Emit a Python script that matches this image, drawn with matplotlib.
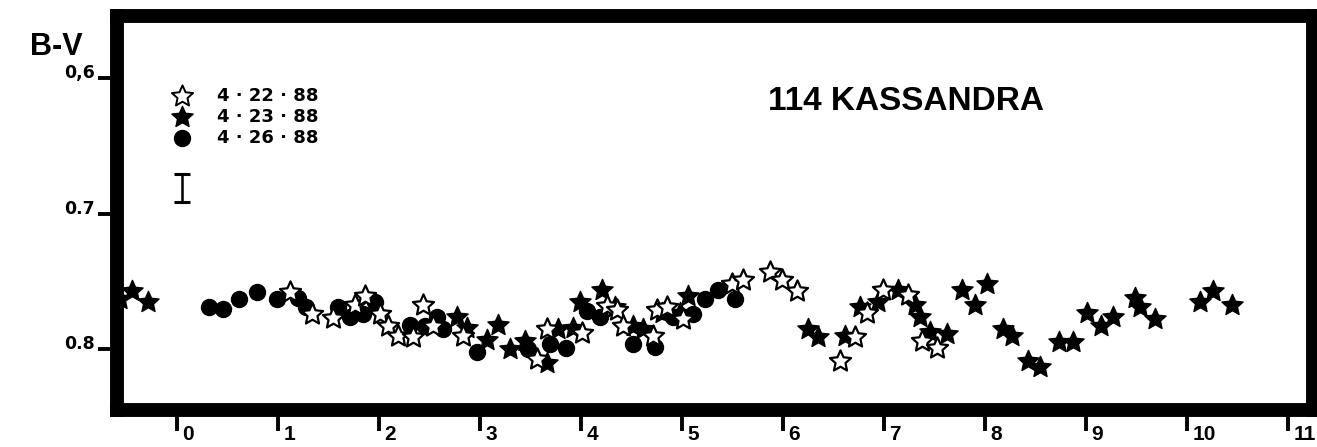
import matplotlib
matplotlib.use("Agg")
import matplotlib.pyplot as plt
import matplotlib.transforms as mtransforms
from matplotlib.path import Path

# 4.22.88 -- open stars (rotational phase, B-V)
OPEN_X = [1.119, 1.337, 1.545, 1.762, 1.861, 2.010, 2.089, 2.188, 2.337, 2.436,
          2.535, 2.832, 3.564, 3.663, 4.010, 4.257, 4.356, 4.416, 4.713, 4.752,
          4.851, 5.010, 5.495, 5.604, 5.871, 5.990, 6.139, 6.564, 6.713, 6.832,
          6.990, 7.238, 7.376, 7.525]
OPEN_Y = [0.758, 0.774, 0.777, 0.767, 0.761, 0.774, 0.783, 0.790, 0.791, 0.767,
          0.783, 0.790, 0.807, 0.785, 0.788, 0.768, 0.771, 0.783, 0.790, 0.771,
          0.769, 0.778, 0.752, 0.749, 0.743, 0.749, 0.757, 0.809, 0.791, 0.773,
          0.756, 0.760, 0.794, 0.799]

# 4.23.88 -- filled stars
FILLED_X = [-0.564, -0.446, -0.287, 2.772, 2.871, 3.069, 3.178, 3.297, 3.446, 3.663,
            3.772, 3.921, 3.990, 4.208, 4.337, 4.515, 4.614, 4.802, 4.980, 5.059,
            6.248, 6.347, 6.614, 6.762, 6.941, 7.139, 7.307, 7.356, 7.455, 7.624,
            7.772, 7.901, 8.020, 8.178, 8.267, 8.426, 8.545, 8.733, 8.871, 9.010,
            9.149, 9.267, 9.485, 9.535, 9.683, 10.129, 10.257, 10.446]
FILLED_Y = [0.763, 0.757, 0.765, 0.776, 0.784, 0.793, 0.782, 0.800, 0.794, 0.810,
            0.785, 0.784, 0.765, 0.756, 0.769, 0.783, 0.785, 0.773, 0.773, 0.761,
            0.785, 0.791, 0.790, 0.769, 0.765, 0.756, 0.767, 0.776, 0.787, 0.789,
            0.756, 0.767, 0.752, 0.785, 0.790, 0.809, 0.813, 0.795, 0.795, 0.773,
            0.783, 0.776, 0.762, 0.769, 0.778, 0.765, 0.757, 0.767]

# 4.26.88 -- filled circles
DOT_X = [0.317, 0.455, 0.614, 0.792, 0.990, 1.198, 1.277, 1.594, 1.713, 1.842,
         1.960, 2.307, 2.455, 2.574, 2.634, 2.970, 3.475, 3.693, 3.851, 4.059,
         4.188, 4.515, 4.733, 4.911, 5.109, 5.228, 5.356, 5.525]
DOT_Y = [0.769, 0.770, 0.763, 0.758, 0.763, 0.762, 0.769, 0.769, 0.776, 0.774,
         0.765, 0.782, 0.783, 0.776, 0.785, 0.802, 0.800, 0.796, 0.799, 0.772,
         0.776, 0.796, 0.798, 0.776, 0.774, 0.763, 0.756, 0.763]

LEGEND_LABELS = ["4 · 22 · 88", "4 · 23 · 88", "4 · 26 · 88"]
X_TICKS = list(range(0, 12))
Y_TICKS = [0.6, 0.7, 0.8]
Y_TICK_LABELS = ["0,6", "0.7", "0.8"]

# typical error bar
ERR_X = 0.05
ERR_Y = 0.681
ERR_HALF = 0.010

# chunkier star than matplotlib's "*", closer to the printed symbols
STAR = Path.unit_regular_star(5, innerCircle=0.47)
STAR_MS = 16
DOT_MS = 11.5

fig = plt.figure(figsize=(13.17, 4.47), dpi=100)
ax = fig.add_axes([0.0885, 0.0817, 0.9088, 0.8836])

ax.plot(DOT_X, DOT_Y, "o", ms=DOT_MS, mfc="black", mec="black", zorder=3)
ax.plot(FILLED_X, FILLED_Y, linestyle="none", marker=STAR, ms=STAR_MS,
        mfc="black", mec="black", mew=1.0, zorder=4)
ax.plot(OPEN_X, OPEN_Y, linestyle="none", marker=STAR, ms=STAR_MS,
        mfc="white", mec="black", mew=1.6, zorder=5)

# hand-made legend, as in the original figure
leg_x = 0.05
leg_y = [0.6129, 0.6287, 0.6441]
styles = [dict(marker=STAR, ms=STAR_MS, mfc="white", mec="black", mew=1.4),
          dict(marker=STAR, ms=STAR_MS, mfc="black", mec="black", mew=1.0),
          dict(marker="o", ms=DOT_MS, mfc="black", mec="black")]
for y, lbl, st in zip(leg_y, LEGEND_LABELS, styles):
    ax.plot([leg_x], [y], linestyle="none", **st)
    ax.text(0.396, y, lbl, ha="left", va="center", fontsize=13,
            family="DejaVu Sans", fontweight="bold", color="black")

ax.errorbar([ERR_X], [ERR_Y], yerr=[ERR_HALF], fmt="none", ecolor="black",
            elinewidth=1.8, capsize=5.5, capthick=2.2)

ax.set_xlim(-0.599, 11.252)
ax.set_ylim(0.8452, 0.5537)

for side in ["left", "right", "top", "bottom"]:
    ax.spines[side].set_linewidth(10)
    ax.spines[side].set_color("black")

ax.set_xticks(X_TICKS)
ax.set_xticklabels([str(t) for t in X_TICKS])
ax.set_yticks(Y_TICKS)
ax.set_yticklabels(Y_TICK_LABELS)
ax.tick_params(axis="x", direction="out", length=15, width=2.8, pad=-4.5,
               labelsize=15)
ax.tick_params(axis="y", direction="out", length=14, width=2.8, pad=1.5,
               labelsize=12.5)

shift = mtransforms.ScaledTranslation(4 / 72, 0, fig.dpi_scale_trans)
for lbl in ax.get_xticklabels():
    lbl.set_horizontalalignment("left")
    lbl.set_verticalalignment("top")
    lbl.set_fontfamily("Liberation Sans")
    lbl.set_fontweight("bold")
    lbl.set_transform(lbl.get_transform() + shift)
for lbl in ax.get_yticklabels():
    lbl.set_verticalalignment("baseline")
    lbl.set_fontfamily("DejaVu Sans")
    lbl.set_fontweight("bold")

fig.text(0.0228, 1 - 55 / 447, "B-V", ha="left", va="baseline", fontsize=22,
         family="Liberation Sans", fontweight="bold")
fig.text(0.583, 1 - 110 / 447, "114 KASSANDRA", ha="left", va="baseline",
         fontsize=24, family="Liberation Sans", fontweight="bold")

fig.savefig("out.png", dpi=100)
